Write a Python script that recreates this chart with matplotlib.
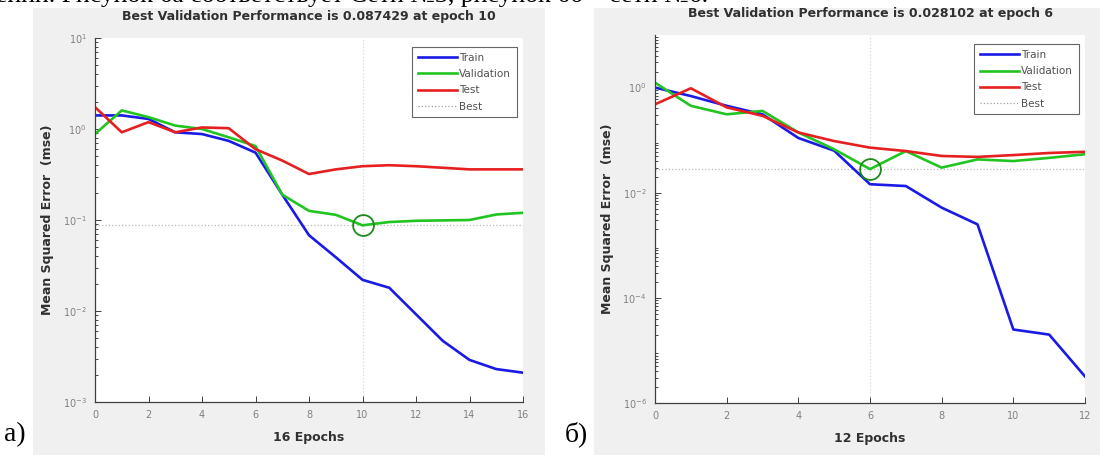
import matplotlib
matplotlib.use('Agg')
import matplotlib.pyplot as plt
from matplotlib.patches import Rectangle
from matplotlib.lines import Line2D
from matplotlib.ticker import LogLocator, NullFormatter

# --- data ---
epochs_a = list(range(17))
train_a = [1.41, 1.41, 1.29, 0.92, 0.88, 0.74, 0.55, 0.19, 0.068, 0.039, 0.022,
           0.018, 0.0092, 0.0047, 0.0029, 0.0023, 0.0021]
valid_a = [0.88, 1.6, 1.35, 1.09, 1.0, 0.81, 0.65, 0.19, 0.126, 0.114, 0.087429,
           0.095, 0.098, 0.099, 0.1, 0.115, 0.12]
test_a = [1.74, 0.92, 1.19, 0.92, 1.04, 1.02, 0.6, 0.45, 0.32, 0.36, 0.39,
          0.4, 0.39, 0.375, 0.36, 0.36, 0.36]
best_a = (10, 0.087429)

epochs_b = list(range(13))
train_b = [1.0, 0.69, 0.45, 0.31, 0.11, 0.063, 0.0145, 0.0134, 0.0052, 0.0025,
           2.5e-5, 2.0e-5, 3.2e-6]
valid_b = [1.24, 0.45, 0.31, 0.36, 0.14, 0.067, 0.028102, 0.062, 0.030, 0.043,
           0.040, 0.046, 0.054]
test_b = [0.48, 0.97, 0.42, 0.29, 0.14, 0.096, 0.072, 0.062, 0.05, 0.048,
          0.052, 0.057, 0.060]
best_b = (6, 0.028102)

W, H = 1100, 455
fig = plt.figure(figsize=(W / 100, H / 100), dpi=100)
fig.patch.set_facecolor('white')

C_TRAIN = '#1a1ae6'
C_VALID = '#22c422'
C_TEST = '#e62020'
GREY_BG = '#f0f0f0'
TXT = '#303030'


def px(x0, y0, x1, y1):
    # pixel box (top-left origin) -> figure fraction rect
    return [x0 / W, 1 - y1 / H, (x1 - x0) / W, (y1 - y0) / H]


# grey MATLAB figure backgrounds, in an axes kept behind the plots
bg = fig.add_axes([0, 0, 1, 1], zorder=-10)
bg.set_xlim(0, W)
bg.set_ylim(H, 0)
bg.axis('off')
bg.add_patch(Rectangle((33, 8), 512, 447, facecolor=GREY_BG, edgecolor='none'))
bg.add_patch(Rectangle((594, 8), 506, 447, facecolor=GREY_BG, edgecolor='none'))


def perf_plot(ax, ep, tr, va, te, best, ylim, yticks, title, xlabel):
    ax.set_facecolor('white')
    ax.plot(ep, tr, color=C_TRAIN, lw=1.9, label='Train')
    ax.plot(ep, va, color=C_VALID, lw=1.9, label='Validation')
    ax.plot(ep, te, color=C_TEST, lw=1.9, label='Test')
    ax.axhline(best[1], color='#b8b8b8', lw=0.9, ls=':', zorder=0)
    ax.axvline(best[0], color='#d8d8d8', lw=0.9, ls=':', zorder=0)
    ax.plot([best[0]], [best[1]], marker='o', ms=15, mfc='none', mec='#1e8a1e',
            mew=1.3, zorder=5)
    ax.set_yscale('log')
    ax.set_xlim(ep[0], ep[-1])
    ax.set_ylim(*ylim)
    ax.set_yticks(yticks)
    ax.yaxis.set_minor_locator(LogLocator(base=10, subs=range(2, 10), numticks=20))
    ax.yaxis.set_minor_formatter(NullFormatter())
    ax.set_xticks(range(ep[0], ep[-1] + 1, 2))
    for s in ['top', 'right']:
        ax.spines[s].set_visible(False)
    for s in ['left', 'bottom']:
        ax.spines[s].set_color('#404040')
        ax.spines[s].set_linewidth(0.9)
    ax.tick_params(direction='in', length=4, width=0.7, colors='#404040',
                   labelsize=7, labelcolor='#808080', pad=6)
    ax.tick_params(which='minor', direction='in', length=2, width=0.5)
    ax.set_title(title, fontsize=9, fontweight='bold', color=TXT, pad=13)
    ax.set_xlabel(xlabel, fontsize=9, fontweight='bold', color=TXT, labelpad=8)
    ax.set_ylabel('Mean Squared Error  (mse)', fontsize=9, fontweight='bold',
                  color=TXT, labelpad=6)
    handles = [Line2D([], [], color=C_TRAIN, lw=1.9),
               Line2D([], [], color=C_VALID, lw=1.9),
               Line2D([], [], color=C_TEST, lw=1.9),
               Line2D([], [], color='#a0a0a0', lw=0.9, ls=':')]
    leg = ax.legend(handles, ['Train', 'Validation', 'Test', 'Best'], loc='upper right',
                    fontsize=7.5, frameon=True, fancybox=False, handlelength=3.8,
                    handletextpad=0.15, borderpad=0.55, labelspacing=0.6,
                    borderaxespad=0, bbox_to_anchor=(0.985, 0.975))
    leg.get_frame().set_edgecolor('#404040')
    leg.get_frame().set_linewidth(0.8)
    for t in leg.get_texts():
        t.set_color('#505050')


ax1 = fig.add_axes(px(95, 38, 523, 402))
perf_plot(ax1, epochs_a, train_a, valid_a, test_a, best_a, (1e-3, 1e1),
          [1e-3, 1e-2, 1e-1, 1e0, 1e1],
          'Best Validation Performance is 0.087429 at epoch 10', '16 Epochs')

ax2 = fig.add_axes(px(655, 35, 1085, 403))
perf_plot(ax2, epochs_b, train_b, valid_b, test_b, best_b, (1e-6, 1e1),
          [1e-6, 1e-4, 1e-2, 1e0],
          'Best Validation Performance is 0.028102 at epoch 6', '12 Epochs')

# page text around the screenshots (top line is cut by the crop, as in the source)
fig.text(-0.004, 1 - 2 / H, 'ении. Рисунок 6а соответствует Сети №3, рисунок 6б – сети №6.',
         family='Liberation Serif', fontsize=18.5, va='baseline', ha='left', color='black')
fig.text(0.004, 0.045, 'а)', family='Liberation Serif', fontsize=20, va='center', ha='left')
fig.text(0.513, 0.045, 'б)', family='Liberation Serif', fontsize=20, va='center', ha='left')

fig.savefig('out.png', dpi=100)
